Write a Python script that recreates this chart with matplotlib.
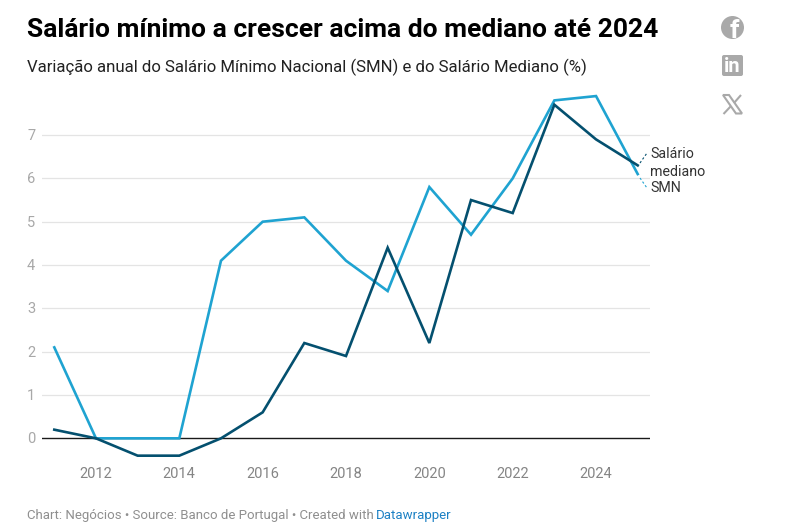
import matplotlib
matplotlib.use('Agg')
import matplotlib.pyplot as plt
from matplotlib.patches import Circle, FancyBboxPatch, Polygon

years = list(range(2011, 2026))
smn = [2.1, 0, 0, 0, 4.1, 5.0, 5.1, 4.1, 3.4, 5.8, 4.7, 6.0, 7.8, 7.9, 6.1]
mediano = [0.2, 0, -0.4, -0.4, 0, 0.6, 2.2, 1.9, 4.4, 2.2, 5.5, 5.2, 7.7, 6.9, 6.3]
x_ticks = [2012, 2014, 2016, 2018, 2020, 2022, 2024]
y_ticks = [1, 2, 3, 4, 5, 6, 7]

titulo = "Salário mínimo a crescer acima do mediano até 2024"
subtitulo = "Variação anual do Salário Mínimo Nacional (SMN) e do Salário Mediano (%)"

COR_SMN = '#1fa3d1'
COR_MED = '#04506f'
W, H = 790, 529

plt.rcParams['font.family'] = ['Roboto', 'DejaVu Sans']

fig = plt.figure(figsize=(W / 100, H / 100), dpi=100)

# eixos do grafico, em pixeis: x 42-650, y 90-460
ax = fig.add_axes([42 / W, 1 - 460 / H, 608 / W, 370 / H])
ax.set_xlim(2010.705, 2025.295)
ax.set_ylim(-0.5, 8.04)
for s in ax.spines.values():
    s.set_visible(False)
ax.patch.set_alpha(0)

for v in y_ticks:
    ax.axhline(v, color='#e4e4e4', lw=0.9, zorder=1)
for v in [0] + y_ticks:
    ax.annotate(str(v), (0, v), xycoords=('axes fraction', 'data'), xytext=(-15, -1),
                textcoords='offset pixels', ha='left', va='center', fontsize=10.5, color='#a8a8a8')
ax.axhline(0, color='#1a1a1a', lw=1.0, zorder=2)

ax.plot(years, smn, color=COR_SMN, lw=1.9, zorder=3, solid_joinstyle='miter')
ax.plot(years, mediano, color=COR_MED, lw=1.9, zorder=4, solid_joinstyle='miter')

ax.set_yticks([])
ax.set_xticks(x_ticks)
ax.set_xticklabels([str(a) for a in x_ticks], fontsize=10.5, color='#858585')
ax.tick_params(axis='x', length=0, pad=4.8)

# camada em pixeis para textos e icones
ov = fig.add_axes([0, 0, 1, 1])
ov.set_xlim(0, W)
ov.set_ylim(H, 0)
ov.axis('off')
ov.patch.set_alpha(0)

ov.text(27, 30, titulo, fontsize=19.03, fontweight='bold', color='#000000', va='center', ha='left')
ov.text(27, 67, subtitulo, fontsize=12.1, color='#222222', va='center', ha='left')

ov.text(27, 515, "Chart: Negócios • Source: Banco de Portugal • Created with",
        fontsize=9.5, color='#8f8f8f', va='center', ha='left')
ov.text(376, 515, "Datawrapper", fontsize=9.5, color='#1d81c4', va='center', ha='left')

# etiquetas diretas das linhas
ov.text(650, 154.5, "Salário", fontsize=10.3, color='#333333', va='center', ha='left')
ov.text(650, 172.5, "mediano", fontsize=10.3, color='#333333', va='center', ha='left')
ov.text(650, 187.5, "SMN", fontsize=10.3, color='#333333', va='center', ha='left')
ov.plot([640, 647], [163, 153], color=COR_MED, lw=0.8, ls=(0, (2, 2)))
ov.plot([640, 647], [178, 188], color=COR_SMN, lw=0.8, ls=(0, (2, 2)))

# icones de partilha
GR = '#a9a9a9'
ov.add_patch(Circle((732.5, 27.5), 11.5, color=GR, lw=0))
ov.text(734, 30.5, "f", fontsize=19, fontweight='bold', color='white', ha='center', va='center')
ov.add_patch(FancyBboxPatch((722, 55), 21, 21, boxstyle='round,pad=0,rounding_size=2', color=GR, lw=0))
ov.text(732.5, 66.5, "in", fontsize=14.5, fontweight='bold', color='white', ha='center', va='center')
ov.add_patch(Polygon([(723, 95), (729, 95), (742, 113.5), (736, 113.5)], closed=True,
                     facecolor='white', edgecolor=GR, lw=1.5))
ov.plot([741, 734], [95, 103], color=GR, lw=1.5, solid_capstyle='butt')
ov.plot([731, 723.5], [106, 114], color=GR, lw=1.5, solid_capstyle='butt')

fig.savefig('out.png', dpi=100, facecolor='white')
